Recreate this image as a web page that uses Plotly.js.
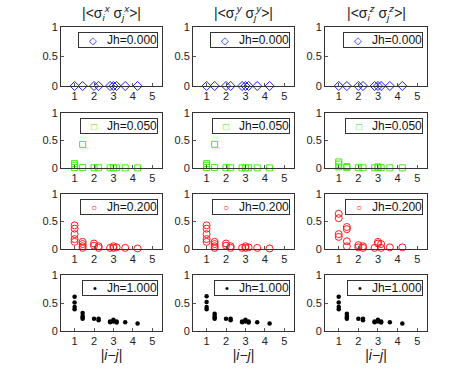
<!DOCTYPE html>
<html>
<head>
<meta charset="utf-8">
<script src="https://cdn.plot.ly/plotly-3.0.1.min.js"></script>
<style>
  html, body { margin: 0; padding: 0; background: #fff; }
  #chart { width: 471px; height: 372px; }
</style>
</head>
<body>
<div id="chart"></div>
<script>
// column titles and row labels
const colTitles = [
  "|&lt;σ<sub><i>i</i></sub><sup><i>x</i></sup> σ<sub><i>j</i></sub><sup><i>x</i></sup>&gt;|",
  "|&lt;σ<sub><i>i</i></sub><sup><i>y</i></sup> σ<sub><i>j</i></sub><sup><i>y</i></sup>&gt;|",
  "|&lt;σ<sub><i>i</i></sub><sup><i>z</i></sup> σ<sub><i>j</i></sub><sup><i>z</i></sup>&gt;|"
];
const jhLabels = ["Jh=0.000", "Jh=0.050", "Jh=0.200", "Jh=1.000"];

// Jh = 0.000 (all three components)
const x_jh0 = [1, 1.414, 2, 2.236, 2.828, 3, 3.162, 3.606, 4.243];
const y_jh0 = [0, 0, 0, 0, 0, 0, 0, 0, 0];

// Jh = 0.050
const x_jh05_xy = [1, 1, 1, 1.414, 1.414, 2, 2.236, 2.828, 3, 3.162, 3.606, 4.243];
const y_jh05_xx = [0.08, 0.05, 0.01, 0.43, 0.01, 0.005, 0.005, 0.003, 0.003, 0.003, 0.002, 0.002];
const y_jh05_yy = [0.08, 0.05, 0.01, 0.43, 0.01, 0.005, 0.005, 0.003, 0.003, 0.003, 0.002, 0.002];
const x_jh05_z = [1, 1, 1, 1.414, 1.414, 2, 2.236, 2.828, 3, 3, 3.162, 3.606, 4.243];
const y_jh05_zz = [0.11, 0.07, 0.02, 0.025, 0.01, 0.005, 0.005, 0.005, 0.02, 0.01, 0.005, 0.003, 0.003];

// Jh = 0.200
const x_jh2_xy = [1, 1, 1, 1, 1, 1.414, 1.414, 1.414, 1.414, 2, 2, 2.236, 2.236, 2.828, 3, 3, 3.162, 3.606, 4.243];
const y_jh2_xx = [0.43, 0.37, 0.27, 0.18, 0.13, 0.13, 0.09, 0.05, 0.02, 0.10, 0.06, 0.05, 0.02, 0.02, 0.05, 0.02, 0.03, 0.02, 0.01];
const y_jh2_yy = [0.43, 0.37, 0.27, 0.18, 0.13, 0.13, 0.09, 0.05, 0.02, 0.10, 0.06, 0.05, 0.02, 0.02, 0.05, 0.02, 0.03, 0.02, 0.01];
const x_jh2_z = [1, 1, 1, 1, 1.414, 1.414, 1.414, 1.414, 2, 2, 2.236, 2.236, 2.828, 3, 3, 3.162, 3.162, 3.606, 4.243];
const y_jh2_zz = [0.64, 0.56, 0.27, 0.22, 0.40, 0.36, 0.14, 0.05, 0.07, 0.03, 0.05, 0.02, 0.02, 0.13, 0.10, 0.09, 0.02, 0.03, 0.03];

// Jh = 1.000
const x_jh1 = [1, 1, 1, 1, 1.414, 1.414, 1.414, 1.414, 2, 2.236, 2.236, 2.828, 2.828, 3, 3, 3.162, 3.162, 3.606, 4.243];
const y_jh1_xx = [0.61, 0.51, 0.43, 0.39, 0.32, 0.27, 0.24, 0.22, 0.22, 0.22, 0.19, 0.17, 0.155, 0.20, 0.17, 0.17, 0.15, 0.155, 0.135];
const y_jh1_yy = [0.62, 0.52, 0.43, 0.39, 0.31, 0.27, 0.24, 0.22, 0.22, 0.22, 0.19, 0.17, 0.155, 0.20, 0.17, 0.17, 0.15, 0.155, 0.135];
const y_jh1_zz = [0.61, 0.51, 0.43, 0.39, 0.31, 0.27, 0.24, 0.22, 0.22, 0.22, 0.19, 0.17, 0.155, 0.20, 0.17, 0.17, 0.15, 0.155, 0.135];

const xTicks = [1, 2, 3, 4, 5];
const yTicks = [0, 0.5, 1];
const yTickText = ["0", "0.5", "1"];

// panel[row][col] = [x, y]
const panels = [
  [[x_jh0, y_jh0], [x_jh0, y_jh0], [x_jh0, y_jh0]],
  [[x_jh05_xy, y_jh05_xx], [x_jh05_xy, y_jh05_yy], [x_jh05_z, y_jh05_zz]],
  [[x_jh2_xy, y_jh2_xx], [x_jh2_xy, y_jh2_yy], [x_jh2_z, y_jh2_zz]],
  [[x_jh1, y_jh1_xx], [x_jh1, y_jh1_yy], [x_jh1, y_jh1_zz]]
];

const rowStyle = [
  { symbol: "diamond-open", color: "#2020ff", size: 7, lw: 1, glyph: "◇", gsize: 10 },
  { symbol: "square-open", color: "#44ee11", size: 6, lw: 1, glyph: "□", gsize: 10 },
  { symbol: "circle-open", color: "#ff1a1a", size: 7, lw: 1, glyph: "○", gsize: 10 },
  { symbol: "circle", color: "#000000", size: 4.5, lw: 0, glyph: "•", gsize: 11 }
];

const W = 471, H = 372;
const colPx = [[61, 162], [193, 294], [325, 427]];
const rowPx = [[27, 86], [113, 168], [194, 249], [275, 331]];

const font = "Liberation Sans, Arial, sans-serif";
const traces = [];
const layout = {
  width: W, height: H,
  margin: { l: 0, r: 0, t: 0, b: 0 },
  paper_bgcolor: "#fff",
  plot_bgcolor: "#fff",
  showlegend: false,
  font: { family: font, size: 11, color: "#222" },
  annotations: []
};

for (let r = 0; r < 4; r++) {
  for (let c = 0; c < 3; c++) {
    const n = r * 3 + c + 1;
    const xa = n === 1 ? "x" : "x" + n;
    const ya = n === 1 ? "y" : "y" + n;
    const st = rowStyle[r];
    traces.push({
      x: panels[r][c][0],
      y: panels[r][c][1],
      xaxis: xa, yaxis: ya,
      type: "scatter", mode: "markers",
      cliponaxis: false,
      marker: { symbol: st.symbol, size: st.size, color: st.color, line: { width: st.lw, color: st.color } },
      name: jhLabels[r]
    });
    const common = {
      showline: true, mirror: true, linecolor: "#333", linewidth: 1,
      ticks: "inside", ticklen: 3, tickcolor: "#555",
      showgrid: false, zeroline: false,
      tickfont: { family: font, size: 11, color: "#222" }
    };
    layout[n === 1 ? "xaxis" : "xaxis" + n] = Object.assign({}, common, {
      domain: [colPx[c][0] / W, colPx[c][1] / W],
      anchor: ya,
      range: [0.3, 5.5],
      tickvals: xTicks,
      ticklabelstandoff: 0,
      title: r === 3 ? { text: "|<i>i</i>−<i>j</i>|", font: { family: font, size: 14, color: "#222" }, standoff: 2 } : { text: "" }
    });
    layout[n === 1 ? "yaxis" : "yaxis" + n] = Object.assign({}, common, {
      domain: [1 - rowPx[r][1] / H, 1 - rowPx[r][0] / H],
      anchor: xa,
      range: [0, 1],
      tickvals: yTicks,
      ticktext: yTickText
    });
    // legend box in the top-right of each panel
    layout.annotations.push({
      xref: "paper", yref: "paper",
      x: (colPx[c][1] - 4) / W, y: 1 - (rowPx[r][0] + 5) / H,
      xanchor: "right", yanchor: "top",
      text: "&nbsp;&nbsp;&nbsp;<span style='color:" + st.color + ";font-size:" + st.gsize + "px'>" + st.glyph +
            "</span>&nbsp;&nbsp;&nbsp;" + jhLabels[r],
      showarrow: false,
      font: { family: font, size: 12, color: "#111" },
      bgcolor: "#fff", bordercolor: "#333", borderwidth: 1, borderpad: 0
    });
  }
}

colTitles.forEach((t, c) => {
  layout.annotations.push({
    xref: "paper", yref: "paper",
    x: (colPx[c][0] + colPx[c][1]) / 2 / W, y: 1 - 13 / H,
    xanchor: "center", yanchor: "middle",
    text: t, showarrow: false,
    font: { family: font, size: 14, color: "#222" }
  });
});

Plotly.newPlot("chart", traces, layout, { displayModeBar: false, staticPlot: true });
</script>
</body>
</html>
